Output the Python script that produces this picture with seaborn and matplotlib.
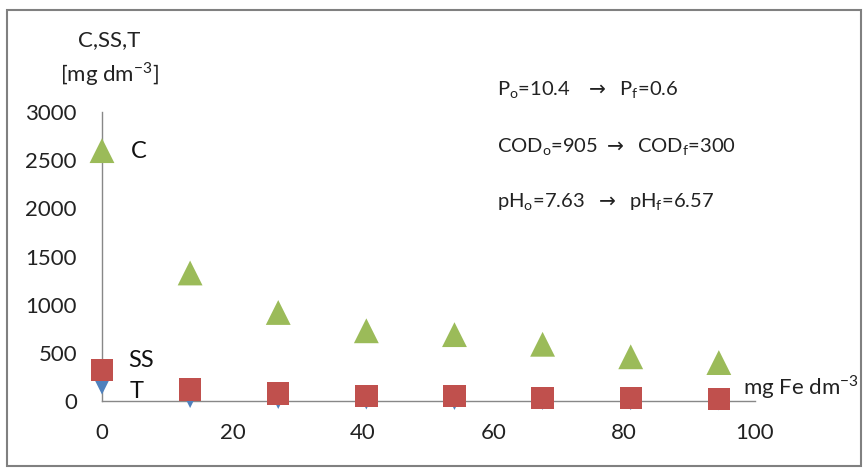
import pandas as pd
import seaborn as sns
import matplotlib.pyplot as plt
from matplotlib.patches import Rectangle

# Fe dose [mg Fe dm-3]
dose = [0, 13.5, 27, 40.5, 54, 67.5, 81, 94.5]
# colour C, suspended solids SS, turbidity T
c_vals = [2600, 1330, 920, 730, 690, 590, 460, 400]
ss_vals = [320, 120, 80, 55, 50, 35, 30, 20]
t_vals = [170, 30, 20, 15, 10, 10, 8, 5]

yticks = [0, 500, 1000, 1500, 2000, 2500, 3000]
xticks = [0, 20, 40, 60, 80, 100]

df = pd.DataFrame({'dose': dose, 'C': c_vals, 'SS': ss_vals, 'T': t_vals})

sns.set_style('white')
plt.rcParams['font.family'] = ['Lato', 'DejaVu Sans']

fig = plt.figure(figsize=(8.68, 4.73), dpi=100)
ax = fig.add_axes([0.1175, 0.152, 0.752, 0.611])

# outer frame
fig.patches.append(Rectangle((0.008, 0.014), 0.984, 0.965, transform=fig.transFigure,
                             fill=False, edgecolor='#808080', linewidth=1.5))

sns.scatterplot(data=df, x='dose', y='T', marker='v', color='#4F81BD', s=200,
                edgecolor='none', ax=ax, clip_on=False, zorder=3)
sns.scatterplot(data=df, x='dose', y='SS', marker='s', color='#C0504D', s=260,
                edgecolor='none', ax=ax, clip_on=False, zorder=4)
sns.scatterplot(data=df, x='dose', y='C', marker='^', color='#9BBB59', s=320,
                edgecolor='none', ax=ax, clip_on=False, zorder=5)

ax.set_xlim(0, 100)
ax.set_ylim(0, 3000)
ax.set_xticks(xticks)
ax.set_yticks(yticks)
ax.tick_params(axis='both', labelsize=16, colors='#888888', labelcolor='#222222',
               length=6, width=1, direction='out')
ax.tick_params(axis='y', pad=12)
ax.tick_params(axis='x', pad=10)
for side in ['top', 'right']:
    ax.spines[side].set_visible(False)
for side in ['left', 'bottom']:
    ax.spines[side].set_color('#888888')
    ax.spines[side].set_linewidth(1)
ax.set_xlabel('')
ax.set_ylabel('')

# series labels
ax.text(4.5, 2590, 'C', fontsize=17, va='center', color='#111111')
ax.text(4.0, 420, 'SS', fontsize=17, va='center', color='#111111')
ax.text(4.3, 95, 'T', fontsize=17, va='center', color='#111111')

# axis titles
fig.text(0.1256, 0.915, 'C,SS,T', fontsize=16, ha='center', va='center', color='#222222')
fig.text(0.1256, 0.844, r'[mg dm$^{\mathregular{-3}}$]', fontsize=16, ha='center', va='center', color='#222222')
fig.text(0.856, 0.182, r'mg Fe dm$^{\mathregular{-3}}$', fontsize=16, ha='left', va='center', color='#222222')

# process summary
fig.text(0.5726, 0.810, r'P$_{\mathregular{o}}$=10.4   $\rightarrow$  P$_{\mathregular{f}}$=0.6', fontsize=14.5, va='center', color='#222222')
fig.text(0.5726, 0.689, r'COD$_{\mathregular{o}}$=905 $\rightarrow$  COD$_{\mathregular{f}}$=300', fontsize=14.5, va='center', color='#222222')
fig.text(0.5726, 0.573, r'pH$_{\mathregular{o}}$=7.63  $\rightarrow$  pH$_{\mathregular{f}}$=6.57', fontsize=14.5, va='center', color='#222222')

plt.savefig('out.png', dpi=100)
